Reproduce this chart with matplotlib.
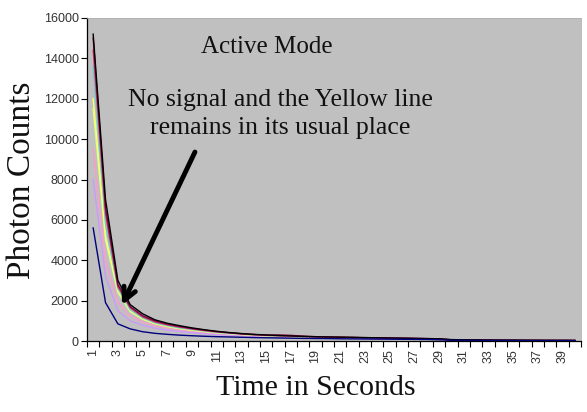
import numpy as np
import matplotlib
matplotlib.use("Agg")
import matplotlib.pyplot as plt
from matplotlib.ticker import FixedLocator, NullFormatter, FixedFormatter

seconds = list(range(1, 41))
tick_labels = [str(s) for s in range(1, 40, 2)]

black = [15200, 7000, 3000, 1800, 1350, 1050, 880, 760, 650, 560, 480, 420, 370, 330, 300, 270, 250, 230, 215, 200,
         190, 180, 170, 160, 150, 140, 130, 120, 110, 70, 60, 55, 50, 45, 45, 40, 40, 35, 35, 30]
maroon = [15000, 6600, 2800, 1700, 1250, 1000, 840, 720, 620, 540, 470, 410, 360, 320, 290, 300, 280, 240, 210, 200,
          190, 180, 165, 160, 150, 140, 130, 120, 110, 60, 50, 45, 40, 40, 35, 35, 30, 30, 30, 30]
magenta = [14400, 6300, 2700, 1650, 1200, 950, 800, 690, 600, 520, 450, 400, 350, 310, 280, 260, 240, 220, 200, 190,
           180, 170, 160, 150, 140, 135, 125, 115, 100, 55, 45, 40, 40, 35, 35, 30, 30, 30, 25, 25]
cyan = [13600, 5800, 2600, 1550, 1150, 900, 760, 650, 570, 500, 430, 380, 340, 300, 270, 250, 230, 210, 195, 185,
        175, 165, 155, 145, 135, 130, 120, 110, 95, 50, 45, 40, 35, 35, 30, 30, 30, 25, 25, 25]
yellow = [12000, 5200, 2500, 1500, 1100, 870, 730, 630, 550, 480, 420, 370, 330, 290, 265, 245, 225, 205, 190, 180,
          170, 160, 150, 140, 130, 125, 115, 105, 90, 50, 40, 40, 35, 30, 30, 30, 25, 25, 25, 25]
green = [11500, 5000, 2400, 1450, 1080, 850, 710, 610, 530, 460, 400, 355, 315, 280, 255, 235, 215, 200, 185, 175,
         165, 155, 145, 135, 125, 120, 110, 100, 85, 45, 40, 35, 35, 30, 30, 25, 25, 25, 25, 20]
pink = [9500, 4000, 1900, 1250, 950, 770, 650, 560, 490, 430, 380, 340, 300, 270, 245, 225, 205, 190, 175, 165,
        155, 145, 140, 130, 120, 115, 105, 95, 80, 45, 40, 35, 30, 30, 25, 25, 25, 20, 20, 20]
lavender = [8000, 3200, 1500, 1000, 780, 640, 540, 470, 410, 360, 320, 290, 260, 235, 215, 200, 185, 170, 160, 150,
            140, 135, 125, 120, 110, 105, 95, 90, 75, 40, 35, 30, 30, 25, 25, 25, 20, 20, 20, 20]
navy = [5600, 1900, 850, 600, 460, 380, 330, 290, 260, 235, 215, 200, 185, 170, 160, 150, 140, 130, 125, 120,
        110, 105, 100, 95, 90, 85, 80, 75, 60, 35, 30, 30, 25, 25, 25, 20, 20, 20, 20, 20]

series = [
    (lavender, "#CC99FF"),
    (pink, "#FF99CC"),
    (green, "#CCFF99"),
    (yellow, "#FFFF66"),
    (cyan, "#66CCCC"),
    (magenta, "#CC3366"),
    (maroon, "#800040"),
    (black, "#000000"),
    (navy, "#000080"),
]

W, H = 587, 412
fig = plt.figure(figsize=(W / 100, H / 100), dpi=100)
fig.patch.set_facecolor("white")
L, R, T, B = 87, 581, 18, 341
ax = fig.add_axes([L / W, 1 - B / H, (R - L) / W, (B - T) / H])
ax.set_facecolor("#C0C0C0")

for vals, col in series:
    ax.plot(seconds, vals, color=col, lw=1.0)

sans = ["Liberation Sans", "DejaVu Sans"]
ax.set_xlim(0.5, 40.5)
ax.set_ylim(0, 16000)
ax.set_yticks(range(0, 16001, 2000))
ax.tick_params(axis="y", direction="out", length=4, width=0.8, labelsize=9,
               labelcolor="#333333", pad=2)

ax.xaxis.set_major_locator(FixedLocator(np.arange(0.5, 41, 1.0)))
ax.xaxis.set_major_formatter(NullFormatter())
ax.xaxis.set_minor_locator(FixedLocator(list(range(1, 40, 2))))
ax.xaxis.set_minor_formatter(FixedFormatter(tick_labels))
ax.tick_params(axis="x", which="major", direction="out", length=4, width=0.8)
ax.tick_params(axis="x", which="minor", length=0, labelsize=9, labelcolor="#333333",
               labelrotation=90, pad=6)
for lab in ax.get_yticklabels() + ax.xaxis.get_minorticklabels():
    lab.set_family(sans)

for s in ["left", "bottom"]:
    ax.spines[s].set_color("black")
    ax.spines[s].set_linewidth(0.9)
for s in ["top", "right"]:
    ax.spines[s].set_color("#B0B0B0")
    ax.spines[s].set_linewidth(0.6)

serif = ["Liberation Serif", "DejaVu Serif"]
ax.text(0.364, 0.91, "Active Mode", transform=ax.transAxes, ha="center", va="center",
        fontsize=18, family=serif, color="#111111")
ax.text(0.392, 0.746, "No signal and the Yellow line", transform=ax.transAxes,
        ha="center", va="center", fontsize=18.5, family=serif, color="#111111")
ax.text(0.392, 0.659, "remains in its usual place", transform=ax.transAxes,
        ha="center", va="center", fontsize=18.5, family=serif, color="#111111")

ax.annotate("", xy=(3.33, 1780), xytext=(9.24, 9360),
            arrowprops=dict(arrowstyle="->,head_length=0.9,head_width=0.45", lw=3.5,
                            color="black", shrinkA=0, shrinkB=0))

fig.text(22 / W, 1 - 180 / H, "Photon Counts", rotation=90, ha="center", va="center",
         fontsize=24, family=serif, color="#111111")
fig.text(316 / W, 1 - 388 / H, "Time in Seconds", ha="center", va="center",
         fontsize=21.5, family=serif, color="#111111")

fig.savefig("out.png", dpi=100, facecolor="white")
